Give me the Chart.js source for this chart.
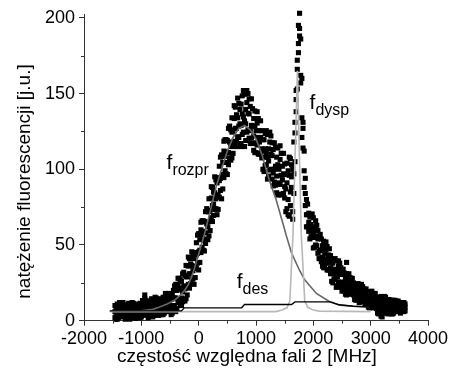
<!DOCTYPE html>
<html>
<head>
<meta charset="utf-8">
<script src="https://cdn.jsdelivr.net/npm/chart.js@4/dist/chart.umd.min.js"></script>
<style>
  html, body { margin: 0; padding: 0; background: #fff; }
  canvas { display: block; }
</style>
</head>
<body>
<canvas id="c" width="452" height="378"></canvas>
<script>
// ---------- data ----------
// measured scan: relative frequency grid (MHz)
const scanStart = -1460;
const scanStep = 20;
// fluorescence intensity, three readings per frequency step
const fluorA = [
  10, 5, 8, 2, 9, 6, 3, 12, 5, 8,
  9, 3, 11.5, 6, 2, 10, 4.5, 8, 1.5, 11,
  10.5, 5, 8, 2.5, 10.5, 7.5, 17, 13.5, 7, 10.5,
  11, 4.5, 14.5, 8, 3.5, 13, 6.5, 11, 3.5, 14.5,
  14, 8, 11, 5, 14, 11, 7, 18, 10, 14,
  17, 8, 23, 15, 8, 24, 14, 21.5, 10, 31,
  32, 21, 29, 17, 36, 31, 24.5, 45.5, 33, 41,
  45, 34.5, 56.5, 45.5, 38.5, 60, 48.5, 59, 46, 72,
  74, 62, 72, 59.5, 81, 76, 69.5, 95, 80.5, 91,
  94.5, 81.5, 108, 95, 87, 112, 99, 111.5, 96.5, 127,
  128.5, 115, 124.5, 110.5, 133.5, 127, 118, 147, 128.5, 139.5,
  143, 123, 152, 132, 119, 144, 126, 136.5, 117, 146.5,
  140, 122, 128.5, 111, 130.5, 121, 110, 132, 113.5, 119.5,
  119.5, 102.5, 125.5, 108, 95.5, 118, 100, 109, 89, 117.5,
  114.5, 95.5, 103, 83.5, 106.5, 96, 83.5, 110.5, 88.5, 96.5,
  104, 80, 96, 107, 88, 100, 118, 131, 146, 172,
  195, 203, 186, 160, 127, 112, 94, 80, 77, 71,
  68.5, 55.5, 70.5, 58, 48.5, 62, 49.5, 54, 41, 57,
  54, 42, 46.5, 35, 47, 40.5, 33.5, 47.5, 35, 39,
  38, 27.5, 41, 30.5, 23, 36, 25.5, 30.5, 19.5, 34,
  31.5, 22.5, 38.5, 17.5, 27, 22.5, 18, 28, 19.5, 22.5,
  22, 15.5, 24.5, 17.5, 13, 21.5, 14.5, 18, 11, 21,
  19, 13, 15.5, 9, 16.5, 13, 9, 18, 10.5, 13.5,
  13, 6.5, 16, 9.5, 5, 13.5, 7.5, 11.5, 4.5, 14,
  13.5, 8, 10.5, 5, 12, 9.5, 6.5, 13, 8.5, 10,
  11, 7, 12, 9
];
const fluorB = [
  2, 8.5, 1, 7, 4, 11, 6, 4, 10, 1,
  5, 10.5, 6.5, 1, 8, 4, 11.5, 3, 9.5, 6,
  3, 9, 2, 8, 5, 12.5, 14.8, 5, 12, 2,
  6.5, 13, 8.5, 2.5, 11, 6, 15, 5, 12.5, 8,
  5, 13, 4, 11, 8, 17, 10, 8, 16, 4,
  10, 20, 15, 6, 20, 12, 28, 11, 26, 19,
  14, 30, 14.5, 29, 24, 41, 31, 27.5, 43, 24,
  36, 51.5, 44.5, 33.5, 53.5, 45, 66, 46.5, 65.5, 58,
  54, 72, 56, 73, 68, 88, 77, 73.5, 93, 70,
  83, 102, 94, 80.5, 104.5, 94.5, 119.5, 97, 119, 111,
  107.5, 126, 107.5, 125, 118.5, 141, 127, 121.5, 143.5, 115,
  129, 148.5, 134.5, 115, 139.5, 124.5, 150, 120.5, 141.5, 129,
  117, 133.5, 111, 125.5, 116, 133.5, 118, 110.5, 125.5, 100,
  108, 123.5, 111, 93.5, 113.5, 99.5, 122, 93.5, 113, 100,
  89.5, 108, 83, 100, 90, 110.5, 93, 84, 103.5, 72,
  74, 99, 69, 85, 103, 72, 84, 105, 138, 153,
  177, 188, 157, 134, 114, 99, 84, 70, 62, 59,
  60.5, 70, 60.5, 48, 60.5, 50, 63, 44.5, 55.5, 46.5,
  39, 49.5, 35, 44, 38, 49, 38.5, 33.5, 43, 26,
  31, 40, 32.5, 22, 33.5, 25.5, 38, 22, 32.5, 25,
  19.5, 28.5, 17, 24.5, 20.5, 28.5, 21.5, 18, 25, 14,
  17.5, 23.5, 18.5, 12, 20, 14.5, 22.5, 12.5, 19.5, 15,
  11, 17, 8.5, 14.5, 11, 18, 12, 9, 15.5, 5,
  8.5, 15, 10.5, 2.5, 12, 7, 15.5, 5.5, 12.5, 8.5,
  5.5, 11.5, 4.5, 10, 7.5, 13, 8.5, 7, 11.5, 5,
  6.5, 10, 6, 11
];
const fluorC = [
  6, 1, 11, 4, 12, 2.5, 8.5, 7.5, 3, 5.5,
  1.5, 7, 4, 11, 5.5, 12, 7.5, 10.5, 4.5, 3,
  7, 2, 11.5, 5, 13.3, 3.5, 8, 9, 4.5, 7,
  3, 9.5, 5.5, 14, 8, 15.5, 10.5, 14, 7, 5,
  9.5, 4, 15.5, 7.5, 18, 6, 14, 13, 7, 10,
  5, 15, 10, 24, 14.5, 28, 20.5, 27, 15, 12.5,
  23, 13, 36.5, 22.5, 42, 21.5, 37.5, 36.5, 27.5, 34.5,
  28.5, 43.5, 38, 57.5, 46.5, 65, 56.5, 66, 53, 51,
  64, 53.5, 80.5, 65.5, 88.5, 65.5, 85, 84.5, 74, 83,
  73.5, 92.5, 86, 109.5, 96.5, 118.5, 108.5, 119.5, 104.5, 103,
  118, 106, 134, 117, 142, 115, 136, 134, 121, 130,
  117, 136.5, 124.5, 149.5, 130, 152, 137, 146.5, 125.5, 120.5,
  128.5, 112.5, 138.5, 117.5, 138, 110, 125.5, 121, 107.5, 112,
  98.5, 113.5, 103, 123, 105.5, 124.5, 110, 117.5, 97.5, 91.5,
  102, 84.5, 114, 91, 115.5, 83, 102, 97, 81, 87,
  91, 70, 108, 76, 95, 67, 97, 124, 152, 166,
  183, 193, 162, 121, 131, 88, 76, 62, 70, 65,
  54, 63.5, 55, 68, 55, 66, 56, 59.5, 46, 41,
  46.5, 36, 52.5, 39, 52, 33.5, 43.5, 40.5, 31, 34,
  25, 34, 27.5, 39.5, 29, 39.5, 31, 35, 24, 20.5,
  25.5, 17.5, 31, 20.5, 31, 17.5, 25, 23, 17, 19,
  13.5, 20, 15.5, 23.5, 16.5, 24, 18.5, 21, 14, 12,
  15, 9, 19, 11.5, 19.5, 8.5, 15, 13.5, 8, 10,
  4.5, 11, 3, 15.5, 9, 16, 10.5, 13.5, 7.5, 5.5,
  9.5, 4.5, 13.5, 7, 13.5, 6, 10.5, 10, 6.5, 8,
  8.5, 12, 7.5, 6.5
];

// f_rozpr (dark gray curve)
const rozprX = [-1550, -1200, -1000, -800, -680, -550, -420, -330, -244, -180, -122, -70, 0, 100, 200, 308, 424, 500, 600, 700, 800, 900, 1000, 1100, 1238, 1350, 1471, 1530, 1617, 1762, 1849, 2053, 2285, 2460, 2700, 2980];
const rozprY = [6.2, 6.3, 6.5, 7.5, 9, 11, 13.5, 16.5, 20, 24, 29, 35, 44, 57, 72, 89, 103, 112, 121, 127, 129, 126, 120, 110, 92, 80, 64, 56, 45, 33, 27, 18, 12.5, 10.3, 9.5, 9];
// f_dysp (light gray curve)
const dyspX = [-1550, 1350, 1450, 1540, 1590, 1645, 1722, 1790, 1850, 1900, 2000, 2100, 3000];
const dyspY = [6, 6, 7, 8.5, 13, 57, 165, 57, 13, 9, 7, 6.3, 6];
// f_des (black step curve)
const desX = [-1550, -300, -250, 750, 800, 1620, 1680, 2300, 2450, 2700, 3000];
const desY = [6.5, 6.5, 8.5, 8.5, 10.7, 10.7, 12.4, 12.4, 10.5, 9.5, 9];

// axis ticks
const xMajor = [-2000, -1000, 0, 1000, 2000, 3000, 4000];
const xMinor = [-1500, -500, 500, 1500, 2500, 3500];
const yMajor = [0, 50, 100, 150, 200];
const yMinor = [25, 75, 125, 175];

// text
const xTitle = 'częstość względna fali 2 [MHz]';
const yTitle = 'natężenie fluorescencji [j.u.]';
const curveLabels = [
  { x: -560, y: 100.5, sub: 'rozpr' },
  { x: 1935, y: 140, sub: 'dysp' },
  { x: 663, y: 21.5, sub: 'des' }
];

// ---------- chart ----------
const FONT = '"Liberation Sans", Arial, Helvetica, sans-serif';
const AXIS = '#333';

const toPts = (xs, ys) => xs.map((x, i) => ({ x, y: ys[i] }));
const scanPts = [];
[fluorA, fluorB, fluorC].forEach(arr =>
  arr.forEach((v, i) => scanPts.push({ x: scanStart + i * scanStep, y: v })));

const extras = {
  id: 'extras',
  afterDraw(chart) {
    const { ctx, scales: { x, y }, chartArea } = chart;
    ctx.save();
    ctx.strokeStyle = AXIS;
    ctx.lineWidth = 1;
    xMinor.forEach(v => {
      const px = Math.round(x.getPixelForValue(v)) + 0.5;
      ctx.beginPath();
      ctx.moveTo(px, chartArea.bottom);
      ctx.lineTo(px, chartArea.bottom + 3);
      ctx.stroke();
    });
    yMinor.forEach(v => {
      const py = Math.round(y.getPixelForValue(v)) + 0.5;
      ctx.beginPath();
      ctx.moveTo(chartArea.left, py);
      ctx.lineTo(chartArea.left - 3, py);
      ctx.stroke();
    });
    // curve labels
    ctx.fillStyle = '#000';
    ctx.textBaseline = 'alphabetic';
    ctx.textAlign = 'left';
    curveLabels.forEach(l => {
      const px = x.getPixelForValue(l.x);
      const py = y.getPixelForValue(l.y);
      ctx.font = '21px ' + FONT;
      ctx.fillText('f', px, py);
      const w = ctx.measureText('f').width;
      ctx.font = '16px ' + FONT;
      ctx.fillText(l.sub, px + w, py + 6);
    });
    // axis titles
    ctx.font = '19px ' + FONT;
    ctx.textAlign = 'center';
    ctx.fillText(xTitle, 247, 362);
    ctx.save();
    ctx.translate(30, 181.5);
    ctx.rotate(-Math.PI / 2);
    ctx.fillText(yTitle, 0, 0);
    ctx.restore();
    ctx.restore();
  }
};

new Chart(document.getElementById('c'), {
  type: 'scatter',
  data: {
    datasets: [
      { label: 'pomiar', data: scanPts, pointStyle: 'rect', pointRadius: 3.6,
        backgroundColor: '#000', borderWidth: 0, order: 4, clip: false },
      { label: 'f_rozpr', data: toPts(rozprX, rozprY), showLine: true, borderColor: '#666',
        borderWidth: 1.6, pointRadius: 0, order: 3, tension: 0 },
      { label: 'f_dysp', data: toPts(dyspX, dyspY), showLine: true, borderColor: '#b8b8b8',
        borderWidth: 1.6, pointRadius: 0, order: 2, tension: 0 },
      { label: 'f_des', data: toPts(desX, desY), showLine: true, borderColor: '#000',
        borderWidth: 1.4, pointRadius: 0, order: 1, tension: 0 }
    ]
  },
  options: {
    responsive: false,
    animation: false,
    devicePixelRatio: 1,
    layout: { padding: { top: 12, right: 24, left: 0, bottom: 0 } },
    plugins: { legend: { display: false }, tooltip: { enabled: false } },
    scales: {
      x: {
        type: 'linear', min: -2000, max: 4000,
        afterBuildTicks: s => { s.ticks = xMajor.map(v => ({ value: v })); },
        ticks: { color: '#000', font: { family: FONT, size: 18 }, padding: 3,
                 maxRotation: 0, autoSkip: false, callback: v => String(v) },
        grid: { drawOnChartArea: false, tickLength: 5, color: AXIS },
        border: { color: AXIS, width: 1 },
        afterFit: s => { s.height = 57.3; }
      },
      y: {
        type: 'linear', min: 0, max: 202,
        afterBuildTicks: s => { s.ticks = yMajor.map(v => ({ value: v })); },
        ticks: { color: '#000', font: { family: FONT, size: 18 }, padding: 4,
                 autoSkip: false, callback: v => String(v) },
        grid: { drawOnChartArea: false, tickLength: 5, color: AXIS },
        border: { color: AXIS, width: 1 },
        afterFit: s => { s.width = 84; }
      }
    }
  },
  plugins: [extras]
});
</script>
</body>
</html>
